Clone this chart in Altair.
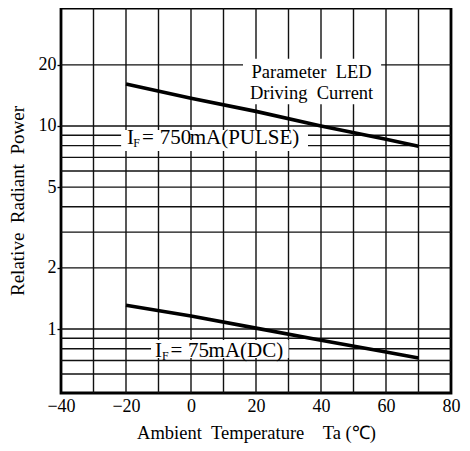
import altair as alt
import pandas as pd

# ---- data ----
temps = [-20, 0, 20, 40, 60, 70]
pulse_power = [16.1, 13.7, 11.8, 10.0, 8.6, 7.95]
dc_power = [1.31, 1.16, 1.01, 0.88, 0.77, 0.72]

x_ticks = [-40, -20, 0, 20, 40, 60, 80]
y_ticks = [1, 2, 5, 10, 20]
x_grid = [-30, -20, -10, 0, 10, 20, 30, 40, 50, 60, 70]
y_grid = [0.6, 0.7, 0.8, 0.9, 1, 2, 3, 4, 5, 6, 7, 8, 9, 10, 20]

NB = "\u00a0"
# annotation pieces: (text, x, y, size)
ann_text = ["Parameter" + NB * 2 + "LED", "Driving" + NB * 2 + "Current",
            "I", "F", "=", "750", "mA(PULSE)",
            "I", "F", "=", "75", "mA(DC)"]
ann_x = [37.1, 37.1,
         -19.7, -17.8, -15.1, -9.6, -0.4,
         -11.1, -8.9, -6.3, -0.9, 5.4]
ann_y = [17.2, 13.6,
         8.11, 7.88, 8.11, 8.11, 8.11,
         0.726, 0.703, 0.726, 0.726, 0.726]
ann_size = [18.5, 18.5,
            21, 12, 21, 21, 21,
            21, 12, 21, 21, 21]
ann_align = ["center", "center"] + ["left"] * 10

# white boxes behind labels
box_x = [16.0, -21.5, -12.3]
box_x2 = [58.5, 36.0, 30.0]
box_y = [21.4, 9.55, 0.883]
box_y2 = [12.8, 7.53, 0.72]

FONT = "Liberation Serif"
X_TITLE = "Ambient" + NB * 2 + "Temperature" + NB * 4 + "Ta (℃)"
Y_TITLE = "Relative" + NB * 2 + "Radiant" + NB * 2 + "Power"

xs = alt.Scale(domain=[-40, 80], nice=False, zero=False)
ys = alt.Scale(type="log", domain=[0.484, 38.1], nice=False)

xaxis = alt.Axis(values=x_ticks, grid=False, ticks=False, domain=False,
                 labelFont=FONT, labelFontSize=18, labelColor="black",
                 labelPadding=4, labelFlush=False,
                 titleFont=FONT, titleFontSize=18.5, titleFontWeight="normal",
                 titleColor="black", titlePadding=8)
yaxis = alt.Axis(values=y_ticks, grid=False, ticks=True, tickSize=4,
                 tickColor="black", tickWidth=1.3, domain=False,
                 labelFont=FONT, labelFontSize=18, labelColor="black",
                 labelPadding=1, labelFlush=False,
                 titleFont=FONT, titleFontSize=19, titleFontWeight="normal",
                 titleColor="black", titlePadding=11)


def X(field):
    return alt.X(field, scale=xs, axis=xaxis, title=X_TITLE)


def Y(field):
    return alt.Y(field, scale=ys, axis=yaxis, title=Y_TITLE)


lines_df = pd.DataFrame({
    "t": temps * 2,
    "p": pulse_power + dc_power,
    "s": ["pulse"] * len(temps) + ["dc"] * len(temps),
})
ygrid_df = pd.DataFrame({"v": y_grid})
xgrid_df = pd.DataFrame({"v": x_grid})
box_df = pd.DataFrame({"x": box_x, "x2": box_x2, "y": box_y, "y2": box_y2})
ann_df = pd.DataFrame({"text": ann_text, "x": ann_x, "y": ann_y,
                       "size": ann_size, "align": ann_align})

curves = alt.Chart(lines_df).mark_line(color="black", strokeWidth=3.6).encode(
    x=X("t:Q"), y=Y("p:Q"), detail="s:N",
)
hgrid = alt.Chart(ygrid_df).mark_rule(color="#111", strokeWidth=1.4).encode(
    y=Y("v:Q")
)
vgrid = alt.Chart(xgrid_df).mark_rule(color="#111", strokeWidth=1.4).encode(
    x=X("v:Q")
)
boxes = alt.Chart(box_df).mark_rect(color="white").encode(
    x=X("x:Q"), x2="x2:Q", y=Y("y:Q"), y2="y2:Q",
)
ann_left = alt.Chart(ann_df[ann_df["align"] == "left"]).mark_text(
    font=FONT, color="black", align="left", baseline="alphabetic"
).encode(
    x=X("x:Q"), y=Y("y:Q"), text="text:N",
    size=alt.Size("size:Q", scale=None, legend=None),
)
ann_center = alt.Chart(ann_df[ann_df["align"] == "center"]).mark_text(
    font=FONT, color="black", align="center", baseline="alphabetic"
).encode(
    x=X("x:Q"), y=Y("y:Q"), text="text:N",
    size=alt.Size("size:Q", scale=None, legend=None),
)

chart = alt.layer(hgrid, vgrid, boxes, curves, ann_left, ann_center).properties(
    width=390, height=385,
    autosize=alt.AutoSizeParams(type="none"),
    padding={"left": 53, "top": 0, "right": 10, "bottom": 50},
    background="white",
).configure_view(stroke="black", strokeWidth=2.8)

chart.save("out.html", embed_options={"renderer": "svg", "actions": False})
